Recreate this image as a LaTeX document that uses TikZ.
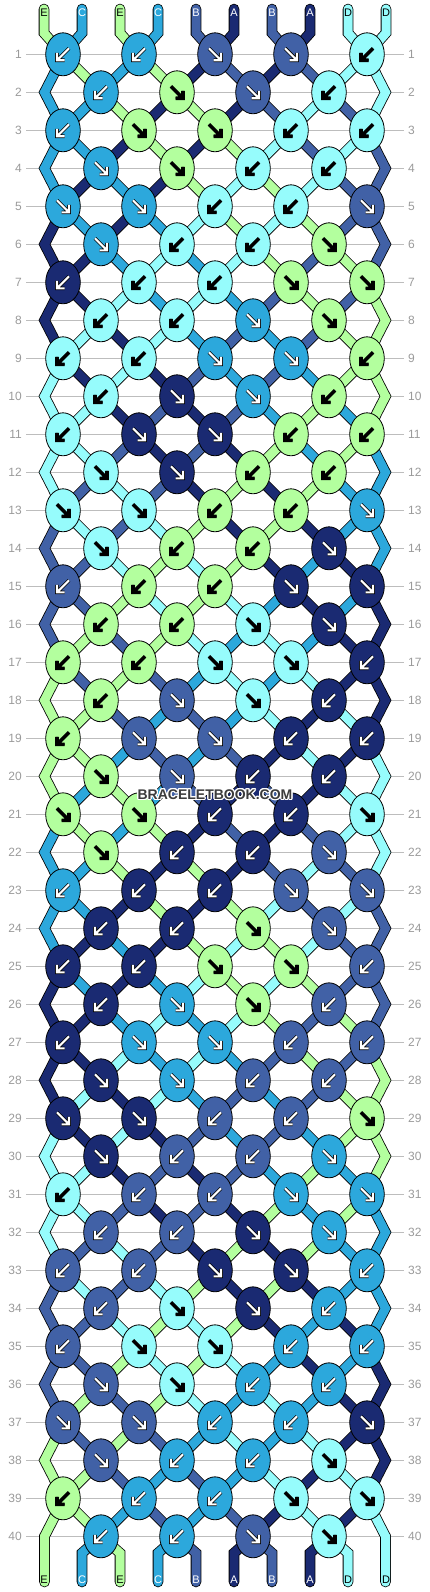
\documentclass[tikz,border=0pt]{standalone}
\usepackage{fontspec}
\setmainfont{Liberation Sans}
\usepackage[copies]{contour}
\usetikzlibrary{shapes.geometric}
\definecolor{cA}{HTML}{1A2A72}
\definecolor{cB}{HTML}{4161A6}
\definecolor{cC}{HTML}{2CA8DC}
\definecolor{cD}{HTML}{96FCFC}
\definecolor{cE}{HTML}{B3FF9E}
\colorlet{aA}{white}\colorlet{aB}{white}\colorlet{aC}{white}\colorlet{aD}{black}\colorlet{aE}{black}
\definecolor{gridgray}{HTML}{BDBDBD}
\definecolor{numgray}{HTML}{9A9A9A}
\definecolor{wmgray}{HTML}{3C3C3C}
\pgfdeclarelayer{gridlayer}\pgfdeclarelayer{threadlayer}
\pgfsetlayers{gridlayer,threadlayer,main}

% colour letter of the string at position #1 after #2 rows -> \resC
\newcommand\strAt[2]{%
  \pgfmathtruncatemacro\phA{mod((#1)-(#2)+40,20)}%
  \ifodd\phA\relax\pgfmathtruncatemacro\phA{mod(79-(#1)-(#2),20)}\fi
  \ifnum\phA>9\relax\pgfmathtruncatemacro\phA{19-\phA}\fi
  \edef\resC{\ifcase\phA\space E\or C\or E\or C\or B\or A\or B\or A\or D\or D\fi}%
}
% knot directions, 0 = down-left, 1 = down-right
\newcommand\setdirs[1]{%
  \pgfmathtruncatemacro\mm{mod(#1,8)}%
  \ifcase\mm\space\def\dirs{0,0,1,1}\or\def\dirs{0,0,1,1,0}\or\def\dirs{0,1,1,0}\or\def\dirs{0,1,1,0,0}\or\def\dirs{1,1,0,0}\or\def\dirs{1,1,0,0,1}\or\def\dirs{1,0,0,1}\or\def\dirs{0,0,0,1,1}\fi}
% left position of the knot holding position #2 in row #1 -> \ka
\newcommand\knotof[2]{%
  \ifodd#1\relax\pgfmathtruncatemacro\ka{(#2)-mod(#2,2)}\else\pgfmathtruncatemacro\ka{(#2)-1+mod(#2,2)}\fi}

\tikzset{
  knot/.style={ellipse, draw=black, line width=0.8pt, minimum width=34.6pt, minimum height=43pt, inner sep=0pt},
  thread/.style={draw=black, line width=0.8pt, double=#1, double distance=9pt, line join=miter},
  arrowout/.style={draw=black, line width=3.6pt, line join=miter},
  arrowin/.style={line width=2.1pt, line join=miter},
  rowline/.style={draw=gridgray, line width=1pt},
  rownum/.style={text=numgray, font=\fontsize{12}{12}\selectfont, inner sep=0pt},
  strandlabel/.style={font=\fontsize{11}{11}\selectfont, inner sep=0pt}
}

\begin{document}
\begin{tikzpicture}[x=1pt,y=1pt]
\useasboundingbox (0,0) rectangle (430,-1592);
% knots
\foreach \row in {1,...,40}{
  \pgfmathsetmacro\yy{-(54.3+38*(\row-1))}
  \pgfmathtruncatemacro\off{1-mod(\row,2)}
  \setdirs{\row}
  \foreach \dv [count=\kk] in \dirs {
    \pgfmathtruncatemacro\ka{2*(\kk-1)+\off}
    \pgfmathtruncatemacro\pp{\ka+1-\dv}
    \strAt{\pp}{\row-1}
    \node[knot, fill=c\resC] (k-\row-\ka) at ({63+38*\ka},\yy) {};
    \pgfmathsetmacro\xs{1-2*\dv}
    \begin{scope}[shift={(k-\row-\ka.center)}, xscale=\xs]
      \draw[arrowout] (6,6) -- (-6,-6) (-6,1.5) -- (-6,-6) -- (1.5,-6);
      \draw[arrowin, a\resC] (6,6) -- (-6,-6) (-6,1.5) -- (-6,-6) -- (1.5,-6);
    \end{scope}
  }
}
% threads
\begin{pgfonlayer}{threadlayer}
\foreach \row in {1,...,40}{
  \pgfmathtruncatemacro\rp{\row-1}
  \pgfmathtruncatemacro\rn{\row+1}
  \pgfmathsetmacro\yy{-(54.3+38*(\row-1))}
  \foreach \pos in {0,...,9}{
    \strAt{\pos}{\rp}
    \pgfmathtruncatemacro\isedge{(\pos==0)+(\pos==9)}
    \ifnum\row=1\relax
      \knotof{1}{\pos}
      \pgfmathsetmacro\xs{44+38*\pos}
      \draw[thread=c\resC, line cap=round] (\xs,-9) -- (\xs,-33) -- (k-1-\ka.center);
    \else
      \ifnum\isedge=1\relax
        \ifodd\row\relax\else
          \knotof{\rp}{\pos}
          \ifnum\pos=0\relax\def\xa{53}\def\xb{44.5}\else\def\xa{377}\def\xb{385.5}\fi
          \ifnum\row=40\relax
            \draw[thread=c\resC, line cap=round] (k-\rp-\ka.center) -- (\xa,\yy+16.5) -- (\xb,\yy) -- (\xb,-1582);
          \else
            \draw[thread=c\resC] (k-\rp-\ka.center) -- (\xa,\yy+16.5) -- (\xb,\yy) -- (\xa,\yy-16.5) -- (k-\rn-\ka.center);
          \fi
        \fi
      \else
        \knotof{\rp}{\pos}\let\kb\ka
        \knotof{\row}{\pos}
        \draw[thread=c\resC] (k-\rp-\kb.center) -- (k-\row-\ka.center);
      \fi
    \fi
  }
}
\foreach \pos in {1,...,8}{
  \strAt{\pos}{40}
  \knotof{40}{\pos}
  \pgfmathsetmacro\xs{44+38*\pos}
  \draw[thread=c\resC, line cap=round] (k-40-\ka.center) -- (\xs,-1553) -- (\xs,-1582);
}
\end{pgfonlayer}
% row numbers and guide lines
\begin{pgfonlayer}{gridlayer}
\foreach \row in {1,...,40}{
  \pgfmathsetmacro\yy{-(54.3+38*(\row-1))}
  \node[rownum, anchor=east] (ln-\row) at (22,\yy) {\row};
  \node[rownum, anchor=west] (rn-\row) at (408,\yy) {\row};
  \draw[rowline] ([xshift=4pt]ln-\row.east) -- ([xshift=-4pt]rn-\row.west);
}
\end{pgfonlayer}
% strand labels
\foreach \pos/\lab in {0/E,1/C,2/E,3/C,4/B,5/A,6/B,7/A,8/D,9/D}{
  \node[strandlabel, text=a\lab] (top-\pos) at ({44+38*\pos},-13) {\lab};
  \node[strandlabel, text=a\lab] (bot-\pos) at ({44+38*\pos},-1580) {\lab};
}
% watermark
\node[font=\bfseries\fontsize{14}{14}\selectfont, text=wmgray, inner sep=0pt] (wm) at (215,-795) {\contourlength{1.1pt}\contour{white}{BRACELETBOOK.COM}};
\end{tikzpicture}
\end{document}
